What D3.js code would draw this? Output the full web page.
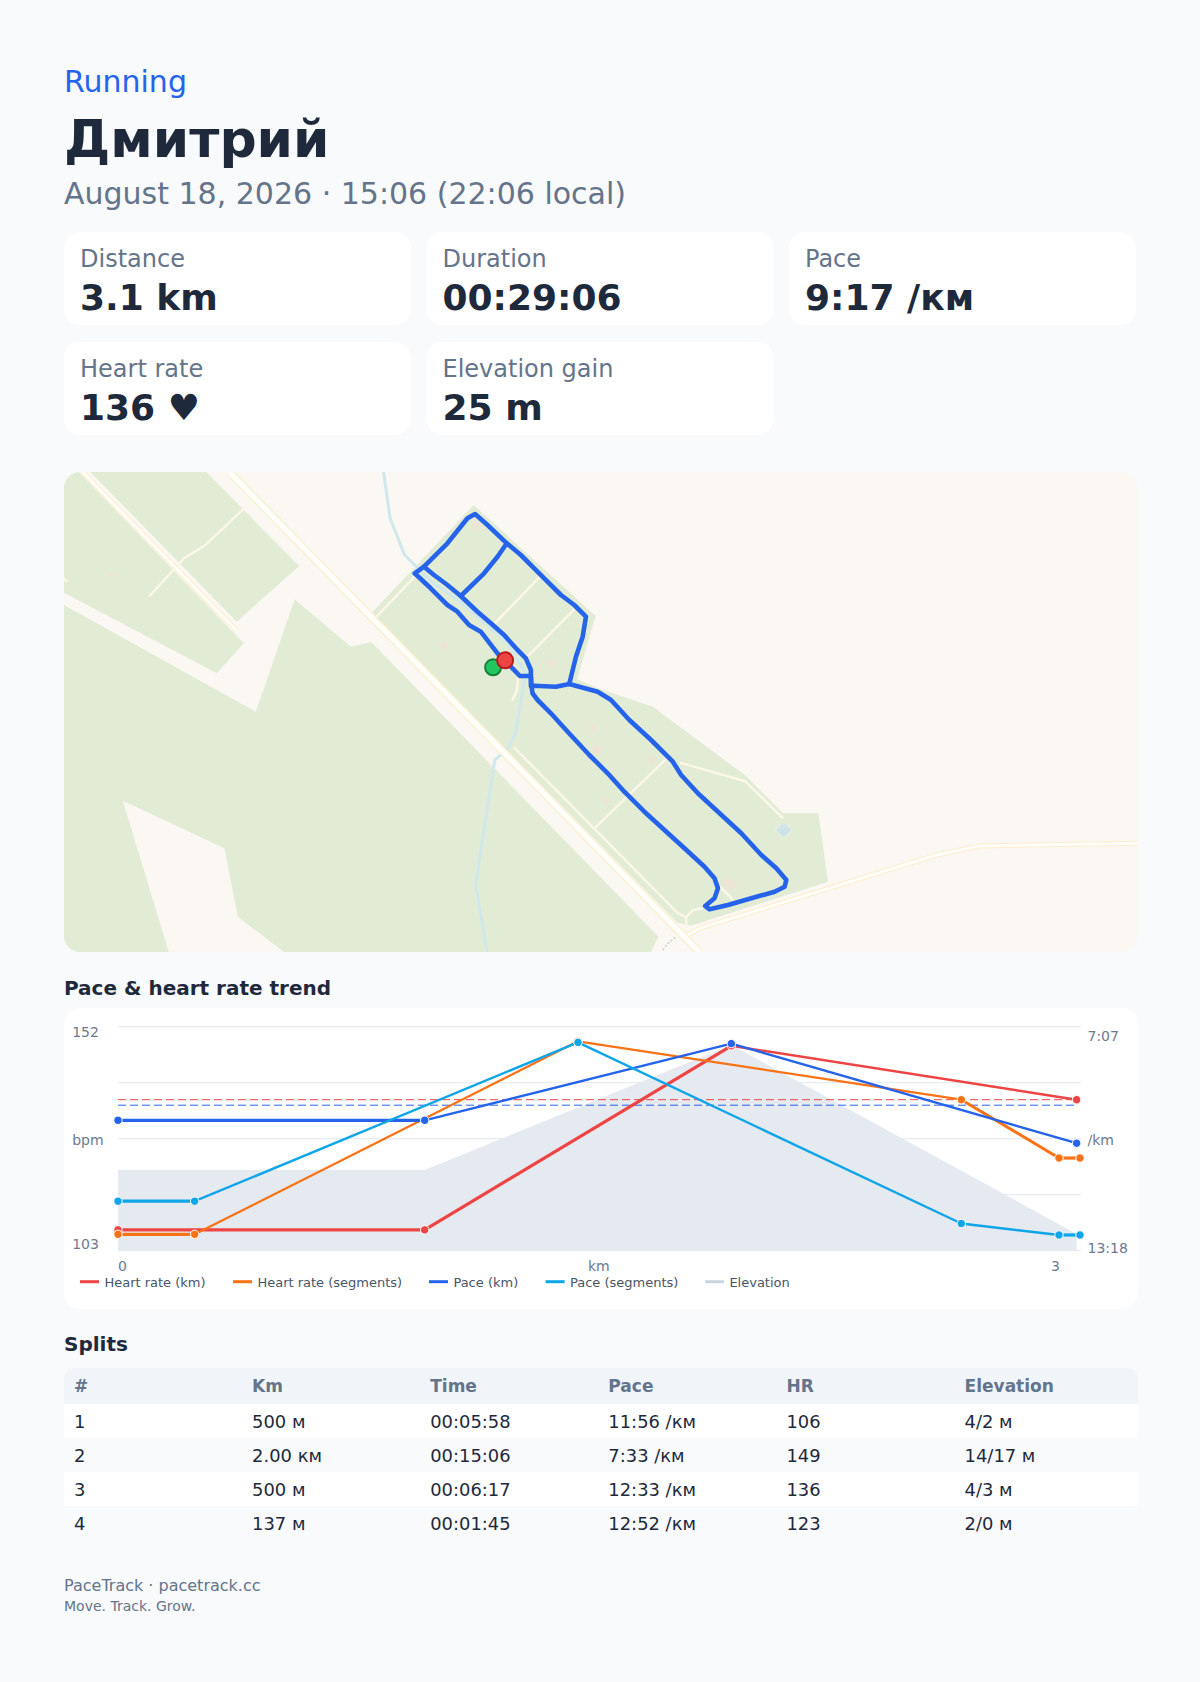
<!DOCTYPE html>
<html>
<head>
<meta charset="utf-8">
<script src="https://d3js.org/d3.v7.min.js"></script>
<style>
  html, body { margin: 0; padding: 0; background: #f8fafc; }
  svg { display: block; }
  text { font-family: "DejaVu Sans", sans-serif; }
</style>
</head>
<body>
<div id="wrapper"></div>
<script>
// summary
const statLabels = ["Distance", "Duration", "Pace", "Heart rate", "Elevation gain"]
const statValues = ["3.1 km", "00:29:06", "9:17 /км", "136 ♥", "25 m"]

// trend chart, distance in km, heart rate in bpm, pace in seconds per km, elevation in m
const hrKmX = [0, 1, 2, 3.126]
const hrKm = [107, 107, 148, 136]
const hrSegX = [0, 0.25, 1.5, 2.75, 3.0685, 3.137]
const hrSeg = [106, 106, 149, 136, 123, 123]
const paceKmX = [0, 1, 2, 3.126]
const paceKm = [582, 582, 455, 620]
const paceSegX = [0, 0.25, 1.5, 2.75, 3.0685, 3.137]
const paceSeg = [716, 716, 453, 753, 772, 772]
const elevX = [0, 1, 2, 3.126]
const elev = [5.76, 5.76, 14.7, 1.2]
const avgHr = 136
const avgPace = 557
const legendLabels = ["Heart rate (km)", "Heart rate (segments)", "Pace (km)", "Pace (segments)", "Elevation"]

// splits table
const splitHeaders = ["#", "Km", "Time", "Pace", "HR", "Elevation"]
const splitRows = [
  ["1", "500 м", "00:05:58", "11:56 /км", "106", "4/2 м"],
  ["2", "2.00 км", "00:15:06", "7:33 /км", "149", "14/17 м"],
  ["3", "500 м", "00:06:17", "12:33 /км", "136", "4/3 м"],
  ["4", "137 м", "00:01:45", "12:52 /км", "123", "2/0 м"],
]

// map features, read in map units (0-1072 across, 0-480 down)
const forestAreas = [
  [[0, 0], [14.7, 0], [179.3, 171.3], [152.5, 201.3], [0, 120.7]],
  [[26.2, 0], [142.1, 0], [234.8, 94], [172.4, 149.7]],
  [[0, 133], [191.5, 239.7], [230.2, 127.3], [286.4, 174.7], [306.7, 170], [593.4, 464.7], [585.8, 480], [219.4, 480], [173.5, 444.7], [160.1, 376.3], [58.7, 328.7], [104.6, 480], [0, 480]],
  [[306.7, 141.3], [408.9, 33], [530.6, 144], [512.2, 207.3], [536, 217.3], [587.7, 234.7], [679.5, 303], [717.8, 341.3], [753, 341.3], [762.6, 409.7], [625.9, 453.7], [612.5, 450.7], [311.3, 146.3]],
]
const waterway = [[319, 0], [325.5, 46.3], [340, 83], [365, 108], [396, 130], [443.3, 171.3], [460.6, 201.3], [451, 259.7], [443.3, 276.3], [430, 288], [410.8, 413], [422.3, 480]]
const majorRoads = [
  [[165, 0], [634, 480]],
  [[622.7, 463], [634.3, 456.3], [870.9, 383], [913, 374], [1072, 371.3]],
  [[18.5, 0], [172.4, 158.7]],
]
const lanes = [
  [[84.7, 124.7], [120, 86.3], [141, 73], [186.9, 29.7]],
  [[0, 106], [3, 110]],
  [[311.3, 145.3], [351.5, 103]],
  [[429.9, 151.3], [475.1, 104.7]],
  [[462.5, 184.7], [510.3, 136.3]],
  [[447.2, 228.7], [451.7, 219.7], [453.7, 201.3]],
  [[449.1, 275.3], [612.7, 441.3], [621, 445.3], [627.7, 438], [637.7, 436.3]],
  [[621, 445.3], [621, 461]],
  [[529.4, 356.3], [601, 287]],
  [[614.5, 290.7], [679.5, 309], [717.8, 346.3]],
  [[654.6, 414.7], [668, 428]],
]
const footpath = [[597.7, 478], [602.7, 471.3], [611, 464.7]]
const buildings = [[47.2, 103], [379.4, 173.7], [412, 53], [486.6, 191.3], [528.3, 256.3], [532.1, 278], [541.5, 328.7], [586.9, 288], [665, 412]]
const buildingWidths = [5, 8, 9, 8, 7, 9, 7, 8, 12]
const buildingHeights = [5, 6, 8, 7, 7, 7, 6, 6, 9]
const pond = [718.5, 358]

const routeLegs = [
  [[439.3, 188], [447.7, 196.3], [455, 204], [466, 204], [466.7, 214.7], [467.7, 221.3], [472.7, 228], [486, 241.3], [502.7, 259.7], [524.3, 283], [542.7, 301.3], [559.3, 319.7], [579.3, 339.7], [599.3, 358], [619.3, 376.3], [639.3, 394.7], [649.3, 406.3], [652.7, 416.3], [649.3, 426.3], [640, 434], [644.3, 437.3], [662.7, 433], [686, 426.3], [709.3, 419.7], [719.3, 414.7], [721, 408], [711, 396.3], [696, 383], [676, 361.3], [652.7, 339.7], [632.7, 321.3], [616, 303], [607.7, 289.7], [586, 268], [564.3, 248], [546, 228], [532.7, 219.7], [504.3, 212], [491, 214.7], [469.3, 213.7]],
  [[466, 214], [466, 198], [461, 186.3], [452.7, 178], [439.3, 163], [426, 151.3], [412.7, 139.7], [396, 124], [419.3, 101.3], [432.7, 84.7], [442, 71.3]],
  [[504.3, 212], [511, 184.7], [517.7, 164.7], [521, 144.7], [509.3, 133], [496, 123], [479.3, 106.3], [469.3, 96.3], [456, 83], [442, 71.3], [422.7, 53], [410.3, 42], [402.7, 46.3], [382.7, 71.3], [359.3, 94.7], [350, 101.3], [366, 116.3], [382.7, 133], [392.7, 139.7], [404.3, 153], [416, 159.7], [432.7, 181.3], [439.3, 188]],
  [[359.3, 94.7], [369.3, 103], [382.7, 113], [396, 124]],
]
const startPoint = [428.3, 195.3]
const endPoint = [440.3, 188.3]

const colors = {
  ink: "#1e293b", muted: "#64748b", blue: "#2563eb", page: "#f8fafc",
  hr: "#ef4444", hrSeg: "#f97316", pace: "#2563eb", paceSeg: "#0ea5e9",
}

const dimensions = { width: 1200, height: 1682, fullWidth: 1074 }

const wrapper = d3.select("#wrapper")
  .append("svg")
  .attr("width", dimensions.width)
  .attr("height", dimensions.height)

wrapper.append("rect")
  .attr("width", dimensions.width)
  .attr("height", dimensions.height)
  .attr("fill", colors.page)

function addText(parent, x, y, str, size, fill, weight, anchor) {
  return parent.append("text")
    .attr("x", x)
    .attr("y", y)
    .attr("font-size", size)
    .attr("fill", fill)
    .attr("font-weight", weight || 400)
    .attr("text-anchor", anchor || "start")
    .text(str)
}

// 1. Header

addText(wrapper, 64, 92, "Running", 30, colors.blue)
addText(wrapper, 64, 157, "Дмитрий", 52, colors.ink, 700)
addText(wrapper, 64, 204, "August 18, 2026 · 15:06 (22:06 local)", 30, colors.muted)

// 2. Stat cards

const cardWidth = 347
const cardHeight = 93
const cards = wrapper.selectAll(".stat")
  .data(statLabels)
  .join("g")
  .attr("class", "stat")
  .attr("transform", (d, i) => `translate(${64 + (i % 3) * 362.5},${i < 3 ? 232 : 342})`)

cards.append("rect")
  .attr("width", cardWidth)
  .attr("height", cardHeight)
  .attr("rx", 16)
  .attr("fill", "#fff")

cards.append("text")
  .attr("x", 16)
  .attr("y", 35)
  .attr("font-size", 24)
  .attr("fill", colors.muted)
  .text(d => d)

cards.append("text")
  .attr("x", 16)
  .attr("y", 78)
  .attr("font-size", 36)
  .attr("font-weight", 700)
  .attr("fill", colors.ink)
  .text((d, i) => statValues[i])

// 3. Map

const mapX = d3.scaleLinear().domain([0, 1072]).range([64, 64 + dimensions.fullWidth])
const mapY = d3.scaleLinear().domain([0, 480]).range([472, 952])
const mapLine = d3.line().x(d => mapX(d[0])).y(d => mapY(d[1]))

wrapper.append("clipPath")
  .attr("id", "map-clip")
  .append("rect")
  .attr("x", 64)
  .attr("y", 472)
  .attr("width", dimensions.fullWidth)
  .attr("height", 480)
  .attr("rx", 16)

const map = wrapper.append("g").attr("clip-path", "url(#map-clip)")

map.append("rect")
  .attr("x", 64)
  .attr("y", 472)
  .attr("width", dimensions.fullWidth)
  .attr("height", 480)
  .attr("fill", "#fbf8f3")

map.selectAll(".forest")
  .data(forestAreas)
  .join("path")
  .attr("class", "forest")
  .attr("d", d => mapLine(d) + "Z")
  .attr("fill", "#e2ecd5")

map.append("path")
  .attr("d", mapLine(waterway))
  .attr("fill", "none")
  .attr("stroke", "#cfe8ec")
  .attr("stroke-width", 3)

map.append("path")
  .attr("d", mapLine(footpath))
  .attr("fill", "none")
  .attr("stroke", "#cfcfcf")
  .attr("stroke-width", 1.5)
  .attr("stroke-dasharray", "2 2")

map.selectAll(".lane")
  .data(lanes)
  .join("path")
  .attr("class", "lane")
  .attr("d", mapLine)
  .attr("fill", "none")
  .attr("stroke", "#fdf7e9")
  .attr("stroke-width", 2.4)

map.selectAll(".road-casing")
  .data(majorRoads)
  .join("path")
  .attr("class", "road-casing")
  .attr("d", mapLine)
  .attr("fill", "none")
  .attr("stroke", "#fdeecb")
  .attr("stroke-width", (d, i) => i == 0 ? 8 : 5)

map.selectAll(".road-core")
  .data(majorRoads)
  .join("path")
  .attr("class", "road-core")
  .attr("d", mapLine)
  .attr("fill", "none")
  .attr("stroke", "#fffefa")
  .attr("stroke-width", (d, i) => i == 0 ? 5.5 : 3)

map.selectAll(".building")
  .data(buildings)
  .join("rect")
  .attr("class", "building")
  .attr("x", (d, i) => -buildingWidths[i] / 2)
  .attr("y", (d, i) => -buildingHeights[i] / 2)
  .attr("width", (d, i) => buildingWidths[i])
  .attr("height", (d, i) => buildingHeights[i])
  .attr("fill", "#eee4d6")
  .attr("transform", d => `translate(${mapX(d[0])},${mapY(d[1])}) rotate(45)`)

map.append("rect")
  .attr("x", -6)
  .attr("y", -6)
  .attr("width", 12)
  .attr("height", 12)
  .attr("fill", "#cfe4e8")
  .attr("stroke", "#e6f0e2")
  .attr("transform", `translate(${mapX(pond[0])},${mapY(pond[1])}) rotate(45)`)

map.selectAll(".route")
  .data(routeLegs)
  .join("path")
  .attr("class", "route")
  .attr("d", mapLine)
  .attr("fill", "none")
  .attr("stroke", colors.blue)
  .attr("stroke-width", 4.6)
  .attr("stroke-linejoin", "round")
  .attr("stroke-linecap", "round")

map.append("circle")
  .attr("cx", mapX(startPoint[0]))
  .attr("cy", mapY(startPoint[1]))
  .attr("r", 8)
  .attr("fill", "#22c55e")
  .attr("stroke", "#15803d")
  .attr("stroke-width", 2)

map.append("circle")
  .attr("cx", mapX(endPoint[0]))
  .attr("cy", mapY(endPoint[1]))
  .attr("r", 8)
  .attr("fill", colors.hr)
  .attr("stroke", "#b91c1c")
  .attr("stroke-width", 2)

// 4. Trend chart

addText(wrapper, 64, 995, "Pace & heart rate trend", 20, colors.ink, 700)

wrapper.append("rect")
  .attr("x", 64)
  .attr("y", 1008)
  .attr("width", dimensions.fullWidth)
  .attr("height", 301)
  .attr("rx", 16)
  .attr("fill", "#fff")

const plot = { left: 118, right: 1080, top: 1026.7, bottom: 1250.7 }

const xScale = d3.scaleLinear().domain([0, 3.137]).range([plot.left, plot.right])
const hrScale = d3.scaleLinear().domain([102.35, 152.26]).range([plot.bottom, plot.top])
const paceScale = d3.scaleLinear().domain([427, 798]).range([plot.top, plot.bottom])
const elevScale = d3.scaleLinear().domain([0, 16]).range([plot.bottom, plot.top])
const gridScale = d3.scaleLinear().domain([0, 4]).range([plot.top, plot.bottom])

wrapper.selectAll(".grid")
  .data(d3.range(5))
  .join("line")
  .attr("class", "grid")
  .attr("x1", plot.left)
  .attr("x2", 1081)
  .attr("y1", d => gridScale(d))
  .attr("y2", d => gridScale(d))
  .attr("stroke", "#e2e8f0")
  .attr("stroke-width", 1)

const elevArea = d3.area()
  .x((d, i) => xScale(elevX[i]))
  .y0(plot.bottom)
  .y1(d => elevScale(d))

wrapper.append("path")
  .attr("d", elevArea(elev))
  .attr("fill", "#e5e9f0")

const avgLines = [
  { y: hrScale(avgHr), color: colors.hr },
  { y: paceScale(avgPace), color: colors.pace },
]
wrapper.selectAll(".avg")
  .data(avgLines)
  .join("line")
  .attr("class", "avg")
  .attr("x1", plot.left)
  .attr("x2", xScale(3.126))
  .attr("y1", d => d.y)
  .attr("y2", d => d.y)
  .attr("stroke", d => d.color)
  .attr("stroke-width", 1)
  .attr("stroke-dasharray", "8 4")

const series = [
  { xs: hrKmX, ys: hrKm, scale: hrScale, color: colors.hr, widths: [3.2, 3.2, 2.5] },
  { xs: hrSegX, ys: hrSeg, scale: hrScale, color: colors.hrSeg, widths: [3.2, 2.3, 2.3, 3, 3.2] },
  { xs: paceKmX, ys: paceKm, scale: paceScale, color: colors.pace, widths: [3.2, 2.3, 2.3] },
  { xs: paceSegX, ys: paceSeg, scale: paceScale, color: colors.paceSeg, widths: [3.2, 2.4, 2.4, 2.4, 3.2] },
]

series.forEach(s => {
  const pts = s.ys.map((v, i) => [xScale(s.xs[i]), s.scale(v)])
  wrapper.append("g")
    .selectAll("line")
    .data(d3.pairs(pts))
    .join("line")
    .attr("x1", d => d[0][0])
    .attr("y1", d => d[0][1])
    .attr("x2", d => d[1][0])
    .attr("y2", d => d[1][1])
    .attr("stroke", s.color)
    .attr("stroke-width", (d, i) => s.widths[i])

  wrapper.append("g")
    .selectAll("circle")
    .data(pts)
    .join("circle")
    .attr("cx", d => d[0])
    .attr("cy", d => d[1])
    .attr("r", 4.2)
    .attr("fill", s.color)
    .attr("stroke", "#fff")
    .attr("stroke-width", 1)
})

const tickColor = "#6b7a90"
addText(wrapper, 72.2, 1037.3, "152", 14, tickColor)
addText(wrapper, 72.2, 1145, "bpm", 14, tickColor)
addText(wrapper, 72.2, 1249.3, "103", 14, tickColor)
addText(wrapper, 1087.5, 1041, "7:07", 14, tickColor)
addText(wrapper, 1087.5, 1145, "/km", 14, tickColor)
addText(wrapper, 1087.5, 1253, "13:18", 14, tickColor)
addText(wrapper, 118, 1271, "0", 14, tickColor)
addText(wrapper, 598.8, 1271, "km", 14, tickColor, 400, "middle")
addText(wrapper, 1060, 1271, "3", 14, tickColor, 400, "end")

const legendColors = [colors.hr, colors.hrSeg, colors.pace, colors.paceSeg, "#cbd5e1"]
const legendSwatchX = [80, 233, 429, 545.6, 705]
const legend = wrapper.selectAll(".legend")
  .data(legendLabels)
  .join("g")
  .attr("class", "legend")
  .attr("transform", (d, i) => `translate(${legendSwatchX[i]},1281.7)`)

legend.append("line")
  .attr("x2", 19)
  .attr("stroke", (d, i) => legendColors[i])
  .attr("stroke-width", 3)

legend.append("text")
  .attr("x", 24.4)
  .attr("y", 5)
  .attr("font-size", 13)
  .attr("fill", "#475569")
  .text(d => d)

// 5. Splits table

addText(wrapper, 64, 1351, "Splits", 20, colors.ink, 700)

const colX = d3.scaleLinear().domain([0, 5]).range([74, 964.6])
const rowY = d3.scaleLinear().domain([0, 4]).range([1404, 1540])

const tableRight = 64 + dimensions.fullWidth
const headerPath = d3.path()
headerPath.moveTo(64, 1404)
headerPath.lineTo(64, 1380)
headerPath.arcTo(64, 1368, 76, 1368, 12)
headerPath.lineTo(tableRight - 12, 1368)
headerPath.arcTo(tableRight, 1368, tableRight, 1380, 12)
headerPath.lineTo(tableRight, 1404)
headerPath.closePath()

wrapper.append("path")
  .attr("d", headerPath.toString())
  .attr("fill", "#f1f5f9")

wrapper.selectAll(".col-head")
  .data(splitHeaders)
  .join("text")
  .attr("class", "col-head")
  .attr("x", (d, i) => colX(i))
  .attr("y", 1392)
  .attr("font-size", 17)
  .attr("font-weight", 700)
  .attr("fill", colors.muted)
  .text(d => d)

const rows = wrapper.selectAll(".row")
  .data(splitRows)
  .join("g")
  .attr("class", "row")
  .attr("transform", (d, i) => `translate(0,${rowY(i)})`)

rows.append("rect")
  .attr("x", 64)
  .attr("width", dimensions.fullWidth)
  .attr("height", 34)
  .attr("fill", (d, i) => i % 2 == 0 ? "#fff" : colors.page)

rows.selectAll("text")
  .data(d => d)
  .join("text")
  .attr("x", (d, i) => colX(i))
  .attr("y", 24)
  .attr("font-size", 17.9)
  .attr("fill", colors.ink)
  .text(d => d)

// 6. Footer

addText(wrapper, 64, 1591, "PaceTrack · pacetrack.cc", 16, colors.muted)
addText(wrapper, 64, 1610.7, "Move. Track. Grow.", 14, colors.muted)
</script>
</body>
</html>
